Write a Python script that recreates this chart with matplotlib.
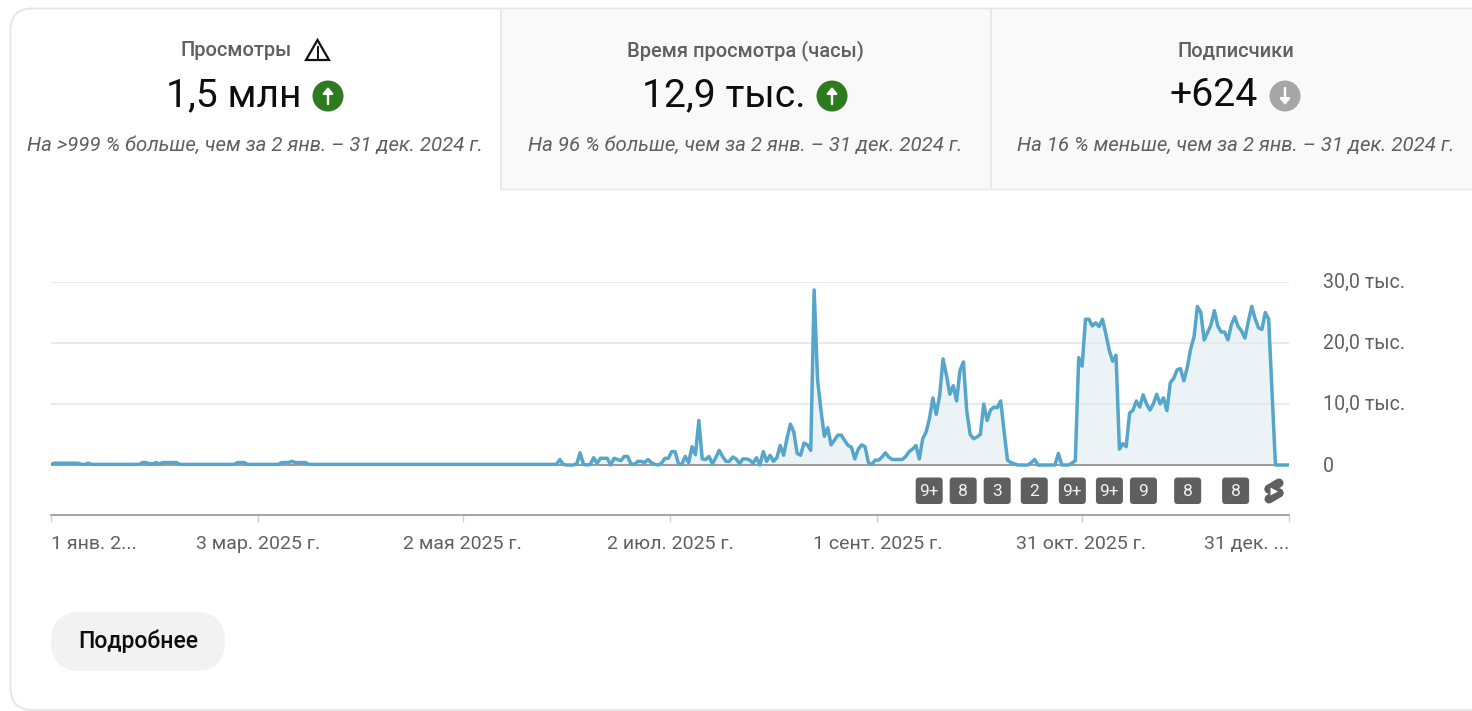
import numpy as np
import matplotlib
matplotlib.use("Agg")
import matplotlib.pyplot as plt
from matplotlib.patches import FancyBboxPatch, Rectangle, Circle, Polygon
from matplotlib.transforms import ScaledTranslation

plt.rcParams['font.family'] = ['Roboto', 'DejaVu Sans']

# ---- data (thousands of views per day) ----
views_early = [
    0.1,0.3,0.3,0.3,0.3,0.3,0.3,0.3,0.3,0.1,0.1,0.3,
    0.1,0.1,0.1,0.1,0.1,0.1,0.1,0.1,0.1,0.1,0.1,0.1,
    0.1,0.1,0.1,0.4,0.4,0.2,0.2,0.4,0.2,0.4,0.4,0.4,
    0.4,0.4,0.1,0.1,0.1,0.1,0.1,0.1,0.1,0.1,0.1,0.1,
    0.1,0.1,0.1,0.1,0.1,0.1,0.1,0.4,0.4,0.4,0.1,0.1,
    0.1,0.1,0.1,0.1,0.1,0.1,0.1,0.1,0.4,0.4,0.4,0.6,
    0.4,0.4,0.4,0.4,0.1,0.1,0.1,0.1,0.1,0.1,0.1,0.1,
    0.1,0.1,0.1,0.1,0.1,0.1,0.1,0.1,0.1,0.1,0.1,0.1,
    0.1,0.1,0.1,0.1,0.1,0.1,0.1,0.1,0.1,0.1,0.1,0.1,
    0.1,0.1,0.1,0.1,0.1,0.1,0.1,0.1,0.1,0.1,0.1,0.1,
    0.1,0.1,0.1,0.1,0.1,0.1,0.1,0.1,0.1,0.1,0.1,0.1,
    0.1,0.1,0.1,0.1,0.1,0.1,0.1,0.1,0.1,0.1,0.1,0.1,
]
views_mid = [
    0.1,0.1,0.1,0.1,0.1,0.1,0.9,0.1,0.0,0.0,0.0,0.2,2.0,0.1,0.0,0.1,
    1.2,0.3,1.1,1.1,1.1,0.0,1.1,0.9,0.7,1.4,1.4,0.2,0.1,0.6,0.6,0.4,
    0.9,0.4,0.1,0.0,0.3,1.1,1.1,2.2,2.2,0.2,0.1,1.4,0.4,3.0,1.7,7.3,
    1.0,0.9,1.4,0.2,1.2,2.4,1.4,0.6,0.6,1.3,1.0,0.2,1.0,1.0,0.8,0.3,
    1.2,0.0,2.2,0.6,1.6,0.6,1.2,3.2,1.6,4.4,6.7,5.4,1.9,1.6,3.6,
    3.3,2.4,28.7,14.0,9.0,4.7,6.1,3.3,4.1,4.9,4.9,4.0,3.2,2.9,1.0,
    2.6,3.3,3.0,0.4,0.1,0.8,0.8,1.3,2.0,1.3,
]
views_late = [
    0.9,0.9,0.9,0.9,1.4,2.2,2.6,3.2,1.0,4.3,5.4,7.6,11.0,8.3,11.4,17.4,14.7,11.6,
    13.0,10.5,15.5,16.9,8.8,5.0,4.3,4.6,5.0,10.0,7.3,9.0,9.5,9.4,10.5,5.5,
    0.8,0.4,0.2,0.0,0.0,0.0,0.0,0.4,0.9,0.0,0.0,0.0,0.0,0.0,0.0,1.9,
    0.0,0.0,0.0,0.3,0.7,17.6,16.2,23.9,23.9,22.8,23.3,22.7,23.9,21.5,18.8,17.0,
    18.0,2.6,3.5,3.0,8.5,9.0,10.5,9.5,11.5,10.0,9.0,10.0,11.6,10.0,11.0,8.9,
    13.5,14.2,15.6,15.8,13.8,16.0,19.0,21.0,26.0,25.0,20.5,21.7,23.0,25.3,22.8,
    21.8,21.8,20.5,23.0,24.3,22.7,22.0,20.8,23.5,26.0,24.0,22.5,22.2,25.0,23.9,12.0,
    0.0,0.0,0.0,0.0,0.0,
]
tick_days = [0, 61, 121, 182, 243, 303, 364]
tick_labels = ["1 янв. 2...", "3 мар. 2025 г.", "2 мая 2025 г.", "2 июл. 2025 г.",
               "1 сент. 2025 г.", "31 окт. 2025 г.", "31 дек. ..."]
y_ticks = [0, 10, 20, 30]
y_labels = ["0", "10,0 тыс.", "20,0 тыс.", "30,0 тыс."]
badge_days = [258.2, 268.2, 278.2, 289.1, 300.3, 311.2, 321.2, 334.2, 348.3]
badge_labels = ["9+", "8", "3", "2", "9+", "9+", "9", "8", "8"]
tabs = ["Просмотры", "Время просмотра (часы)", "Подписчики"]
totals = ["1,5 млн", "12,9 тыс.", "+624"]
notes = ["На >999 % больше, чем за 2 янв. – 31 дек. 2024 г.",
         "На 96 % больше, чем за 2 янв. – 31 дек. 2024 г.",
         "На 16 % меньше, чем за 2 янв. – 31 дек. 2024 г."]

views = np.array(views_early + views_mid + views_late)
days = np.linspace(0, 364, len(views))

W, H = 1472, 711
fig = plt.figure(figsize=(W/100, H/100), dpi=100, facecolor='white')

# page overlay in pixel coordinates
bg = fig.add_axes([0, 0, 1, 1], zorder=0)
bg.set_xlim(0, W); bg.set_ylim(H, 0); bg.axis('off')
bg.add_patch(FancyBboxPatch((10.5, 8.5), W+60, 701.5, boxstyle="round,pad=0,rounding_size=22",
                            fc='white', ec='#e6e6e6', lw=1.4))
bg.add_patch(Rectangle((501, 9.5), 489, 179, fc='#f9f9f9', ec='none'))
bg.add_patch(Rectangle((991, 9.5), 481, 179, fc='#f9f9f9', ec='none'))
for x in (500.5, 990.5):
    bg.plot([x, x], [9, 189], color='#e5e5e5', lw=1.2)
bg.plot([501, W], [188.5, 188.5], color='#e8e8e8', lw=1.0)

note_x = [255, 745, 1236]
label_x = [236.5, 745.5, 1236]
total_x = [233.5, 724, 1214]
for lx, nx, tx, t, v, n in zip(label_x, note_x, total_x, tabs, totals, notes):
    bg.text(lx, 51, t, ha='center', va='center', fontsize=14.5, color='#606060', fontweight='medium')
    bg.text(nx, 145.5, n, ha='center', va='center', fontsize=14.7, style='italic', color='#606060')
    bg.text(tx, 96, v, ha='center', va='center', fontsize=28.2, color='#0d0d0d')

# warning triangle
bg.add_patch(Polygon([(317.5, 40), (306, 60), (329, 60)], closed=True, fc='none', ec='#111111', lw=1.6, joinstyle='miter'))
bg.plot([317.5, 317.5], [47, 54], color='#111111', lw=1.4)
bg.plot([317.5, 317.5], [55.5, 57.5], color='#111111', lw=1.4)

# trend circles
for cx, col in ((328, '#2d7a1f'), (832, '#2d7a1f'), (1285, '#a6a6a6')):
    bg.add_patch(Circle((cx, 96), 15.5, fc=col, ec='none'))
    up = col != '#a6a6a6'
    a, b = (104, 88) if up else (88, 104)
    bg.annotate('', xy=(cx, b-1 if up else b+1), xytext=(cx, a),
                arrowprops=dict(arrowstyle='-|>,head_width=0.3,head_length=0.36', color='white', lw=1.7,
                                shrinkA=0, shrinkB=0))

# button
bg.add_patch(FancyBboxPatch((51, 612), 174, 59, boxstyle="round,pad=0,rounding_size=29.5", fc='#f2f2f2', ec='none'))
bg.text(138, 641.5, "Подробнее", ha='center', va='center', fontsize=16.6, color='#0d0d0d', fontweight='medium')

# chart axes: 0 at y=465px, 30k at y=282px, baseline at y=515px
top, bottom = 282, 515
ax = fig.add_axes([51/W, 1-bottom/H, (1289-51)/W, (bottom-top)/H], zorder=2)
ax.patch.set_alpha(0)
px_per_k = (465-282)/30
ax.set_xlim(0, 364)
ax.set_ylim(-(bottom-465)/px_per_k, 30)
for s in ('top', 'left', 'right'):
    ax.spines[s].set_visible(False)
ax.spines['bottom'].set_color('#8c8c8c')
ax.spines['bottom'].set_linewidth(1.1)
ax.yaxis.tick_right()
ax.set_yticks(y_ticks, y_labels)
ax.tick_params(axis='y', length=0, pad=24.5, labelsize=14.1, labelcolor='#606060')
for lab in ax.get_yticklabels():
    lab.set_va('center_baseline')
    if lab.get_text() != "0":
        lab.set_transform(lab.get_transform() + ScaledTranslation(0, 1.5/100, fig.dpi_scale_trans))
ax.set_xticks(tick_days, tick_labels)
ax.tick_params(axis='x', length=5, width=1, color='#d0d0d0', pad=9.5, labelsize=14, labelcolor='#606060')
xl = ax.get_xticklabels()
xl[0].set_ha('left'); xl[-1].set_ha('right')
ax.grid(False)
for y in y_ticks[1:]:
    ax.axhline(y, color='#e9e9e9', lw=1.4, zorder=1)
ax.fill_between(days, 0, views, color='#dfebf3', alpha=0.6, lw=0, zorder=2)
ax.axhline(0, color='#8c8c8c', lw=1.2, zorder=3)
ax.plot(days, views, color='#55a6ca', lw=2.5, solid_joinstyle='round', zorder=4)

# video badges
for d, b in zip(badge_days, badge_labels):
    xp = ax.transData.transform((d, 0))[0]
    bg.add_patch(FancyBboxPatch((xp-13.5, 477.5), 27, 26.5, boxstyle="round,pad=0,rounding_size=3.5",
                                fc='#5f5f5f', ec='none', zorder=5))
    bg.text(xp, 491, b, ha='center', va='center', fontsize=12.5, color='#f2f2f2', zorder=6)

# shorts icon
bg.plot([1279, 1269], [483, 489], color='#5f5f5f', lw=6.5, solid_capstyle='round', zorder=5)
bg.plot([1279, 1269], [493, 499], color='#5f5f5f', lw=6.5, solid_capstyle='round', zorder=5)
bg.plot([1269, 1279], [489, 493], color='#5f5f5f', lw=6.5, solid_capstyle='round', zorder=5)
bg.add_patch(Polygon([(1270.5, 487.5), (1270.5, 495.5), (1278, 491.5)], closed=True, fc='white', ec='none', zorder=6))

fig.savefig('out.png', dpi=100)
